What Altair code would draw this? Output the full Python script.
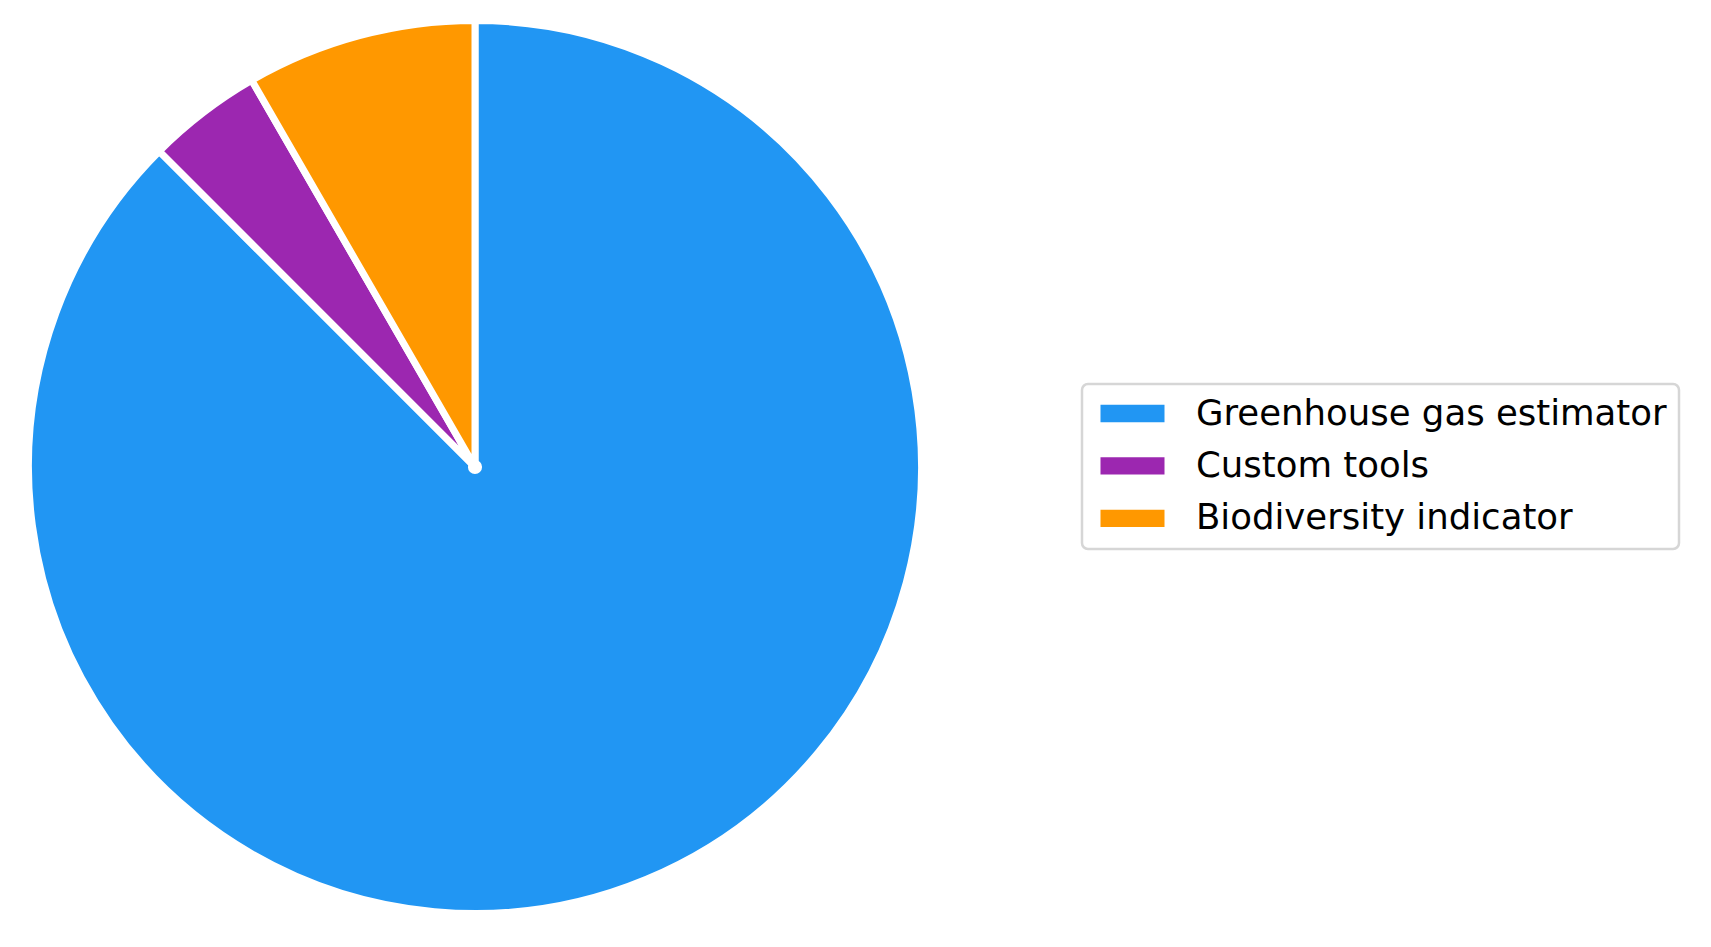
import altair as alt
import pandas as pd

categories = ["Greenhouse gas estimator", "Custom tools", "Biodiversity indicator"]
values = [21, 1, 2]
colors = ["#2196F3", "#9C27B0", "#FF9800"]

df = pd.DataFrame({"tool": categories, "count": values, "order": list(range(len(categories)))})

CX, CY = 467, 459

pie = alt.Chart(df).mark_arc(
    outerRadius=446.5, stroke="white", strokeWidth=7, strokeJoin="round"
).encode(
    theta=alt.Theta("count:Q", stack=True),
    order=alt.Order("order:Q"),
    color=alt.Color(
        "tool:N",
        scale=alt.Scale(domain=categories, range=colors),
        sort=categories,
        legend=alt.Legend(
            title=None,
            orient="none",
            legendX=1074,
            legendY=376,
            labelFont="DejaVu Sans",
            labelFontSize=35.5,
            labelColor="black",
            labelOffset=61.75,
            symbolType="M-1,-0.54H3V0.54H-1Z",
            symbolSize=1024,
            symbolOffset=5,
            symbolStrokeWidth=0,
            symbolOpacity=1,
            rowPadding=15.4,
            padding=11.75,
            strokeColor="#d6d6d6",
            fillColor="white",
            cornerRadius=6,
            labelLimit=0,
        ),
    ),
    x=alt.value(CX),
    y=alt.value(CY),
)

dot = alt.Chart(pd.DataFrame({"k": [0]})).mark_circle(
    color="white", opacity=1, size=200
).encode(x=alt.value(CX), y=alt.value(CY))

chart = alt.layer(pie, dot).properties(
    width=1690, height=930, padding=0, autosize=alt.AutoSizeParams(type="none")
).configure_view(stroke=None).configure_legend(strokeWidth=2.5)

chart.save("out.html", embed_options={"renderer": "svg", "actions": False})
